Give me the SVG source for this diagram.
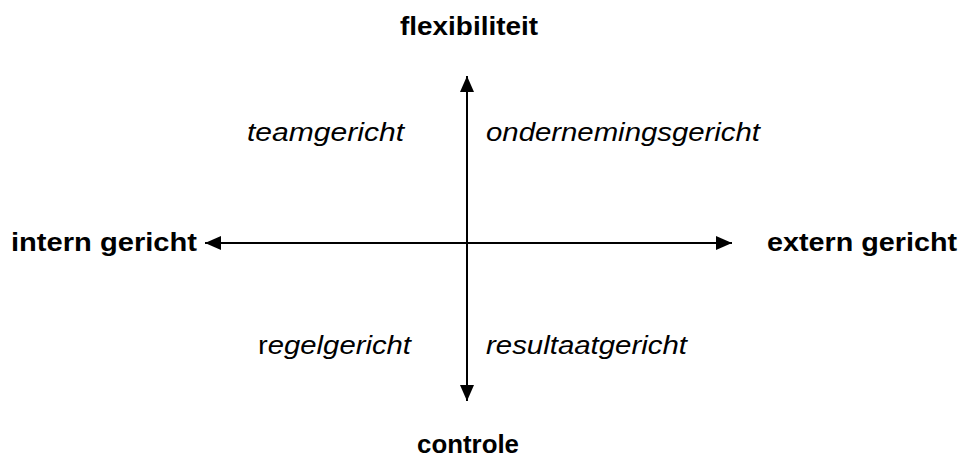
<svg xmlns="http://www.w3.org/2000/svg" width="965" height="464" viewBox="0 0 965 464">
<style>
.b{font-family:"Liberation Sans",Arial,sans-serif;font-weight:bold;font-size:26px;fill:#000}
.i{font-family:"Liberation Sans",Arial,sans-serif;font-style:italic;font-size:26px;fill:#000}
.ax{stroke:#000;stroke-width:2;fill:none}
</style>
<defs>
<marker id="ah" viewBox="0 0 16 14" refX="16" refY="7" markerWidth="16" markerHeight="14" markerUnits="userSpaceOnUse" orient="auto-start-reverse">
<path d="M0,0 L16,7 L0,14 Z" fill="#000"/>
</marker>
</defs>
<rect width="965" height="464" fill="#fff"/>
<g id="connectors">
<line class="ax" x1="205" y1="243" x2="732" y2="243" marker-start="url(#ah)" marker-end="url(#ah)"/>
<line class="ax" x1="467" y1="401" x2="467" y2="76" marker-start="url(#ah)" marker-end="url(#ah)"/>
</g>
<g id="flexibiliteit"><text class="b" x="400" y="35" textLength="138" lengthAdjust="spacingAndGlyphs">flexibiliteit</text></g>
<g id="controle"><text class="b" x="417" y="453" textLength="102" lengthAdjust="spacingAndGlyphs">controle</text></g>
<g id="intern"><text class="b" x="11" y="251" textLength="186" lengthAdjust="spacingAndGlyphs">intern gericht</text></g>
<g id="extern"><text class="b" x="767" y="251" textLength="190" lengthAdjust="spacingAndGlyphs">extern gericht</text></g>
<g id="teamgericht"><text class="i" x="247" y="141" textLength="157" lengthAdjust="spacingAndGlyphs">teamgericht</text></g>
<g id="ondernemingsgericht"><text class="i" x="486" y="141" textLength="274" lengthAdjust="spacingAndGlyphs">ondernemingsgericht</text></g>
<g id="regelgericht"><text class="i" x="258" y="354" textLength="153" lengthAdjust="spacingAndGlyphs"><tspan font-style="normal">r</tspan>egelgericht</text></g>
<g id="resultaatgericht"><text class="i" x="486" y="354" textLength="201" lengthAdjust="spacingAndGlyphs">resultaatgericht</text></g>
</svg>
